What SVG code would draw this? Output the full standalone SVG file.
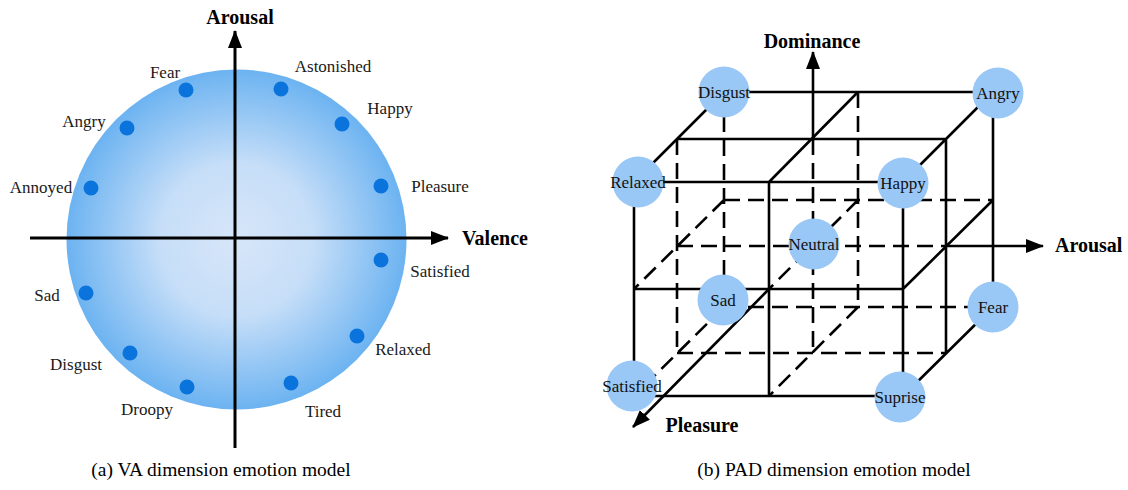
<svg xmlns="http://www.w3.org/2000/svg" width="1128" height="490" viewBox="0 0 1128 490">
  <defs>
    <radialGradient id="vaFill" cx="0.5" cy="0.5" r="0.5">
      <stop offset="0" stop-color="#d7e6f9"/>
      <stop offset="0.45" stop-color="#c6def8"/>
      <stop offset="1" stop-color="#6cb3f1"/>
    </radialGradient>
    <marker id="arrow" markerUnits="userSpaceOnUse" markerWidth="18" markerHeight="14" refX="17" refY="7" orient="auto">
      <path d="M0,0 L18,7 L0,14 z" fill="#000"/>
    </marker>
    <style>
      .lbl { font-family: "Liberation Serif", "Times New Roman", serif; font-size: 17px; fill: #1a1a1a; }
      .ax { font-family: "Liberation Serif", "Times New Roman", serif; font-size: 20px; font-weight: bold; fill: #000; }
      .cap { font-family: "Liberation Serif", "Times New Roman", serif; font-size: 19.5px; fill: #000; text-anchor: middle; }
      .dot { fill: #0a74dc; }
      .node circle { fill: #99c7f6; }
      .node text { font-family: "Liberation Serif", "Times New Roman", serif; font-size: 17px; fill: #111; text-anchor: middle; }
      .solid { stroke: #000; stroke-width: 2.6; fill: none; }
      .dash { stroke: #000; stroke-width: 2.6; fill: none; stroke-dasharray: 16 8; }
      .axis { stroke: #000; stroke-width: 3; fill: none; }
    </style>
  </defs>

  <rect width="1128" height="490" fill="#fff"/>

  <!-- (a) Valence-Arousal circle model -->
  <g id="va-model">
    <circle cx="236.5" cy="239.5" r="170" fill="url(#vaFill)"/>
    <g id="va-axes">
      <line class="axis" x1="235" y1="448" x2="235" y2="31" marker-end="url(#arrow)"/>
      <line class="axis" x1="30" y1="238" x2="448" y2="238" marker-end="url(#arrow)"/>
    </g>
    <text class="ax" x="240" y="24" text-anchor="middle">Arousal</text>
    <text class="ax" x="462" y="245">Valence</text>

    <g id="va-fear"><circle class="dot" cx="186" cy="90" r="7.5"/><text class="lbl" x="165" y="78" text-anchor="middle">Fear</text></g>
    <g id="va-astonished"><circle class="dot" cx="281" cy="89" r="7.5"/><text class="lbl" x="333" y="72" text-anchor="middle">Astonished</text></g>
    <g id="va-happy"><circle class="dot" cx="342" cy="124" r="7.5"/><text class="lbl" x="390" y="114" text-anchor="middle">Happy</text></g>
    <g id="va-pleasure"><circle class="dot" cx="381" cy="186" r="7.5"/><text class="lbl" x="440" y="192" text-anchor="middle">Pleasure</text></g>
    <g id="va-angry"><circle class="dot" cx="127" cy="128" r="7.5"/><text class="lbl" x="84" y="127" text-anchor="middle">Angry</text></g>
    <g id="va-annoyed"><circle class="dot" cx="91" cy="188" r="7.5"/><text class="lbl" x="41" y="193" text-anchor="middle">Annoyed</text></g>
    <g id="va-satisfied"><circle class="dot" cx="381" cy="260" r="7.5"/><text class="lbl" x="440" y="277" text-anchor="middle">Satisfied</text></g>
    <g id="va-sad"><circle class="dot" cx="86" cy="293" r="7.5"/><text class="lbl" x="47" y="301" text-anchor="middle">Sad</text></g>
    <g id="va-relaxed"><circle class="dot" cx="357" cy="336" r="7.5"/><text class="lbl" x="403" y="355" text-anchor="middle">Relaxed</text></g>
    <g id="va-disgust"><circle class="dot" cx="130" cy="353" r="7.5"/><text class="lbl" x="76" y="370" text-anchor="middle">Disgust</text></g>
    <g id="va-droopy"><circle class="dot" cx="187" cy="387" r="7.5"/><text class="lbl" x="147" y="415" text-anchor="middle">Droopy</text></g>
    <g id="va-tired"><circle class="dot" cx="291" cy="383" r="7.5"/><text class="lbl" x="323" y="417" text-anchor="middle">Tired</text></g>

    <text class="cap" x="221" y="476">(a) VA dimension emotion model</text>
  </g>

  <!-- (b) Pleasure-Arousal-Dominance cube model -->
  <g id="connectors">
    <!-- hidden edges -->
    <path class="dash" d="M724,92 V307 M724,307 H993 M724,200 H993 M858,92 V307
                          M677,139 V353 M677,353 H946 M677,246 H946 M813,139 V353
                          M724,200 L634,289 M858,200 L769,289 M724,307 L634,396 M858,307 L769,396"/>
    <!-- visible edges -->
    <path class="solid" d="M724,92 H993 M993,92 V307 M677,139 H946 M946,139 V353
                           M634,182 H903 M634,182 V396 M903,182 V396 M634,396 H903
                           M769,182 V396 M634,289 H903
                           M724,92 L634,182 M858,92 L769,182 M993,92 L903,182
                           M993,200 L903,289 M993,307 L903,396"/>
    <!-- axes -->
    <line class="solid" x1="813" y1="139" x2="813" y2="52" marker-end="url(#arrow)"/>
    <line class="solid" x1="946" y1="246" x2="1043" y2="246" marker-end="url(#arrow)"/>
    <line class="solid" x1="769" y1="289" x2="633" y2="427" marker-end="url(#arrow)"/>
  </g>

  <text class="ax" x="812" y="48" text-anchor="middle">Dominance</text>
  <text class="ax" x="1055" y="252">Arousal</text>
  <text class="ax" x="702" y="432" text-anchor="middle">Pleasure</text>

  <g id="pad-disgust" class="node"><circle cx="724" cy="92" r="25.5"/><text x="724" y="98">Disgust</text></g>
  <g id="pad-angry" class="node"><circle cx="998" cy="93" r="25.5"/><text x="998" y="99">Angry</text></g>
  <g id="pad-relaxed" class="node"><circle cx="638" cy="182" r="25.5"/><text x="638" y="188">Relaxed</text></g>
  <g id="pad-happy" class="node"><circle cx="903" cy="183" r="25.5"/><text x="903" y="189">Happy</text></g>
  <g id="pad-neutral" class="node"><circle cx="814" cy="244" r="25.5"/><text x="814" y="250">Neutral</text></g>
  <g id="pad-sad" class="node"><circle cx="723" cy="300" r="25.5"/><text x="723" y="306">Sad</text></g>
  <g id="pad-fear" class="node"><circle cx="993" cy="307" r="25.5"/><text x="993" y="313">Fear</text></g>
  <g id="pad-satisfied" class="node"><circle cx="632" cy="386" r="25.5"/><text x="632" y="392">Satisfied</text></g>
  <g id="pad-suprise" class="node"><circle cx="900" cy="397" r="25.5"/><text x="900" y="403">Suprise</text></g>

  <text class="cap" x="834" y="476">(b) PAD dimension emotion model</text>
</svg>
